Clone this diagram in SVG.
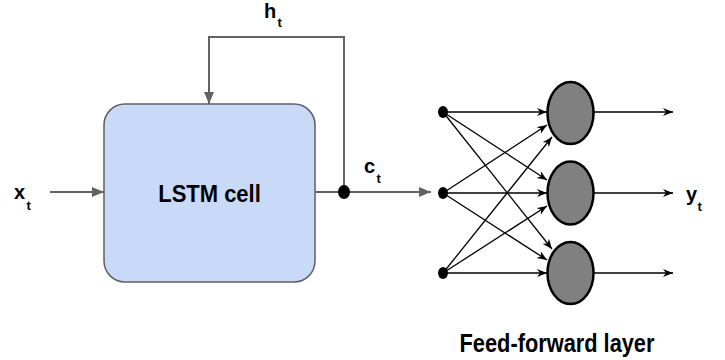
<svg xmlns="http://www.w3.org/2000/svg" width="725" height="360" viewBox="0 0 725 360">
  <style>
    .lbl { font-family: "Liberation Sans", Arial, sans-serif; font-weight: bold; fill: #000; }
    .grey { stroke: #636363; stroke-width: 2; fill: none; }
    .wire { stroke: #000; stroke-width: 1.3; fill: none; }
    .neuron { fill: #808080; stroke: #000; stroke-width: 2.5; }
  </style>
  <defs>
    <marker id="arrGrey" markerUnits="userSpaceOnUse" markerWidth="13" markerHeight="11" refX="12" refY="5" orient="auto">
      <path d="M0,0 L12,5 L0,10 z" fill="#636363"/>
    </marker>
    <marker id="arrBlack" markerUnits="userSpaceOnUse" markerWidth="11" markerHeight="9" refX="10" refY="4" orient="auto">
      <path d="M0,0 L10,4 L0,8 L3,4 z" fill="#000"/>
    </marker>
  </defs>

  <!-- connectors -->
  <g id="connectors">
    <!-- input x_t -->
    <line class="grey" x1="50" y1="192" x2="104" y2="192" marker-end="url(#arrGrey)"/>
    <!-- cell output c_t towards feed-forward layer -->
    <line class="grey" x1="315" y1="192" x2="431" y2="192" marker-end="url(#arrGrey)"/>
    <!-- recurrent h_t feedback -->
    <polyline class="grey" points="344,192 344,37 209,37 209,104" marker-end="url(#arrGrey)"/>

    <!-- fully connected wires -->
    <line class="wire" x1="443" y1="112" x2="547" y2="112" marker-end="url(#arrBlack)"/>
    <line class="wire" x1="443" y1="112" x2="547" y2="180" marker-end="url(#arrBlack)"/>
    <line class="wire" x1="443" y1="112" x2="552" y2="249" marker-end="url(#arrBlack)"/>
    <line class="wire" x1="443" y1="193" x2="547" y2="125" marker-end="url(#arrBlack)"/>
    <line class="wire" x1="443" y1="193" x2="547" y2="193" marker-end="url(#arrBlack)"/>
    <line class="wire" x1="443" y1="193" x2="547" y2="260" marker-end="url(#arrBlack)"/>
    <line class="wire" x1="443" y1="273" x2="552" y2="137" marker-end="url(#arrBlack)"/>
    <line class="wire" x1="443" y1="273" x2="547" y2="206" marker-end="url(#arrBlack)"/>
    <line class="wire" x1="443" y1="273" x2="547" y2="273" marker-end="url(#arrBlack)"/>

    <!-- outputs -->
    <line class="wire" x1="594" y1="112" x2="673" y2="112" marker-end="url(#arrBlack)"/>
    <line class="wire" x1="594" y1="193" x2="673" y2="193" marker-end="url(#arrBlack)"/>
    <line class="wire" x1="594" y1="273" x2="673" y2="273" marker-end="url(#arrBlack)"/>
  </g>

  <!-- LSTM cell -->
  <g id="lstm-cell">
    <rect x="104" y="104" width="211" height="178" rx="21" ry="21" fill="#c9daf8" stroke="#5f5f5f" stroke-width="1.5"/>
    <text class="lbl" transform="translate(209.5,201.5) scale(1,1.07)" font-size="22" text-anchor="middle">LSTM cell</text>
  </g>

  <!-- split junction -->
  <g id="junction">
    <ellipse cx="344" cy="192" rx="6" ry="7" fill="#000"/>
  </g>

  <!-- input units -->
  <g id="input-1"><ellipse cx="443" cy="112" rx="5" ry="6" fill="#000"/></g>
  <g id="input-2"><ellipse cx="443" cy="193" rx="5" ry="6" fill="#000"/></g>
  <g id="input-3"><ellipse cx="443" cy="273" rx="5" ry="6" fill="#000"/></g>

  <!-- neurons -->
  <g id="neuron-1"><ellipse class="neuron" cx="570.5" cy="113" rx="23" ry="31"/></g>
  <g id="neuron-2"><ellipse class="neuron" cx="570.5" cy="193" rx="23" ry="31.5"/></g>
  <g id="neuron-3"><ellipse class="neuron" cx="570.5" cy="273" rx="23" ry="31"/></g>

  <!-- labels -->
  <g id="label-x">
    <text class="lbl" x="14" y="199" font-size="20">x</text>
    <text class="lbl" x="26.5" y="210" font-size="13">t</text>
  </g>
  <g id="label-h">
    <text class="lbl" x="264" y="18" font-size="20">h</text>
    <text class="lbl" x="277.5" y="27" font-size="13">t</text>
  </g>
  <g id="label-c">
    <text class="lbl" x="364" y="173" font-size="20">c</text>
    <text class="lbl" x="376.5" y="183" font-size="13">t</text>
  </g>
  <g id="label-y">
    <text class="lbl" x="686" y="201" font-size="20">y</text>
    <text class="lbl" x="697.5" y="211" font-size="13">t</text>
  </g>
  <g id="label-ff">
    <text class="lbl" transform="translate(557,351.5) scale(1,1.2)" font-size="21.8" text-anchor="middle">Feed-forward layer</text>
  </g>
</svg>
